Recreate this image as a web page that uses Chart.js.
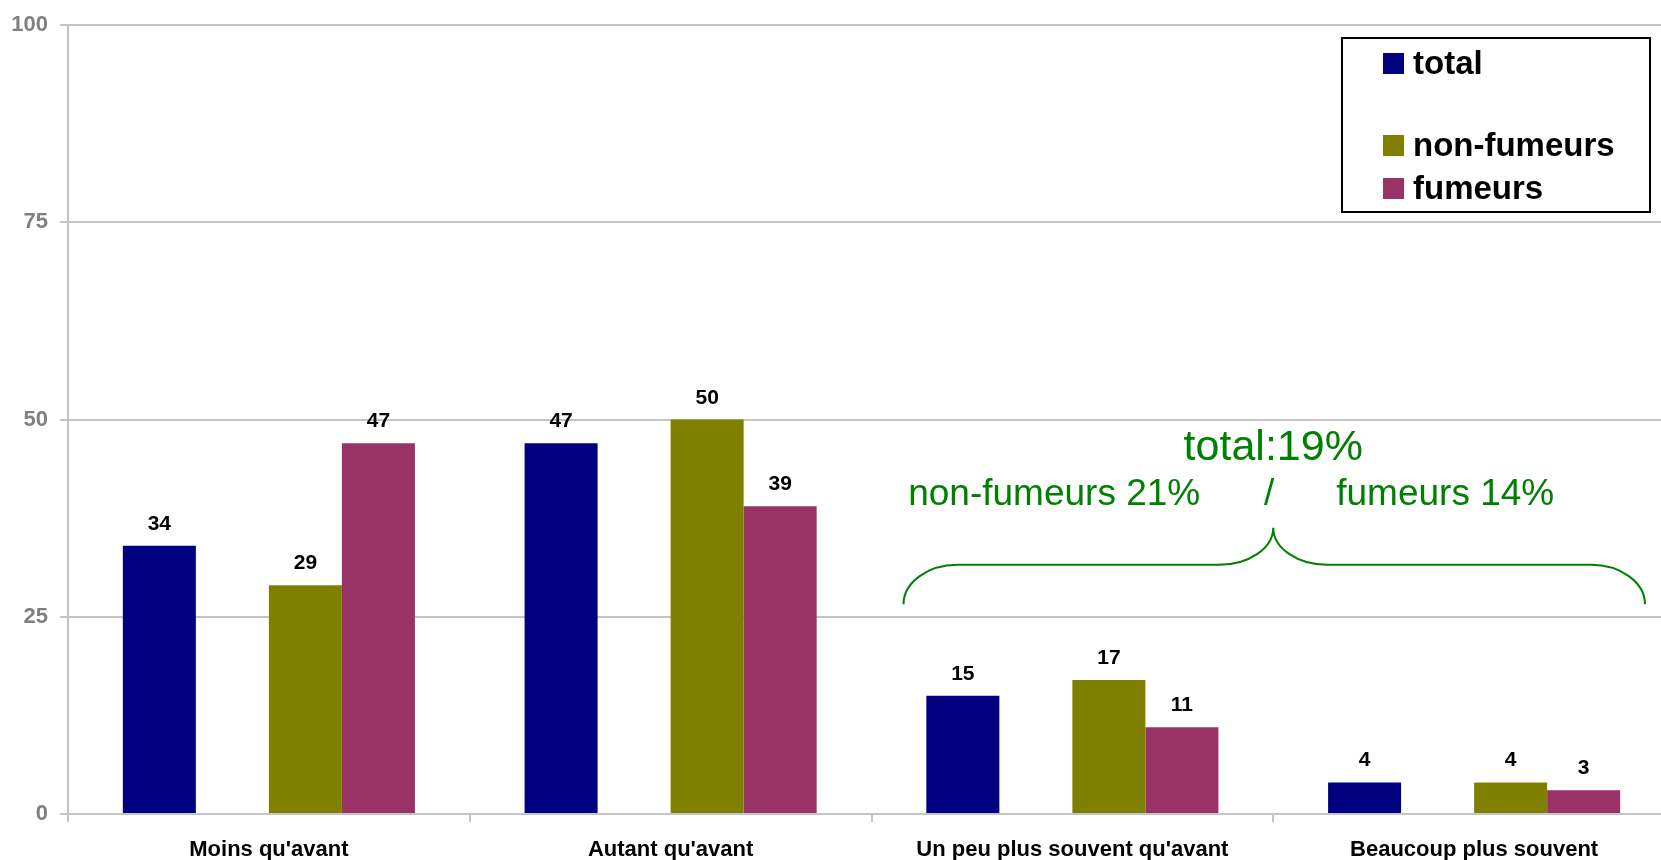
<!DOCTYPE html>
<html>
<head>
<meta charset="utf-8">
<script src="https://cdn.jsdelivr.net/npm/chart.js@4.4.0/dist/chart.umd.min.js"></script>
<style>
  html, body { margin: 0; padding: 0; background: #fff; overflow: hidden; }
  #wrap { width: 1700px; height: 860px; }
</style>
</head>
<body>
<div id="wrap"><canvas id="chart" width="1700" height="860"></canvas></div>
<script>
const categories = ["Moins qu'avant", "Autant qu'avant", "Un peu plus souvent qu'avant", "Beaucoup plus souvent"];
const total = [34, 47, 15, 4];
const nonFumeurs = [29, 50, 17, 4];
const fumeurs = [47, 39, 11, 3];
const yTicks = [0, 25, 50, 75, 100];

const navy = '#000080';
const olive = '#808000';
const maroon = '#993366';
const green = '#008000';
const gridGray = '#c4c4c4';

// values printed above the bars
const barLabels = {
    id: 'barLabels',
    afterDatasetsDraw(chart) {
        const ctx = chart.ctx;
        ctx.save();
        ctx.font = 'bold 21px Arial, "Liberation Sans", sans-serif';
        ctx.fillStyle = '#000';
        ctx.textAlign = 'center';
        ctx.textBaseline = 'alphabetic';
        chart.data.datasets.forEach((ds, i) => {
            const meta = chart.getDatasetMeta(i);
            meta.data.forEach((bar, j) => {
                const v = ds.data[j];
                if (v === null || v === undefined) return;
                ctx.fillText(String(v), bar.x, bar.y - 16);
            });
        });
        ctx.restore();
    }
};

// boxed legend in the top right corner, with the empty row
const boxLegend = {
    id: 'boxLegend',
    afterDraw(chart) {
        const ctx = chart.ctx;
        const rows = [64, 105, 146, 189];
        ctx.save();
        ctx.strokeStyle = '#000';
        ctx.lineWidth = 2;
        ctx.strokeRect(1342, 38, 308, 174);
        ctx.font = 'bold 33px Arial, "Liberation Sans", sans-serif';
        ctx.textBaseline = 'middle';
        ctx.textAlign = 'left';
        chart.data.datasets.forEach((ds, i) => {
            if (ds.label.trim() === '') return;
            const y = rows[i];
            ctx.fillStyle = ds.backgroundColor;
            ctx.fillRect(1383, y - 11, 21, 21);
            ctx.fillStyle = '#000';
            ctx.fillText(ds.label, 1413, y + 1);
        });
        ctx.restore();
    }
};

// green brace and text over the two last categories
const braceNote = {
    id: 'braceNote',
    afterDraw(chart) {
        const ctx = chart.ctx;
        const xs = chart.scales.x;
        const ys = chart.scales.y;
        const half = (xs.getPixelForValue(1) - xs.getPixelForValue(0)) / 2;
        const left = xs.getPixelForValue(2) - half;
        const right = xs.getPixelForValue(3) + half;
        const cx = (left + right) / 2;

        ctx.save();
        ctx.fillStyle = green;
        ctx.textBaseline = 'alphabetic';
        ctx.font = '43px Arial, "Liberation Sans", sans-serif';
        ctx.textAlign = 'center';
        ctx.fillText('total:19%', cx, ys.getPixelForValue(44.9));

        ctx.font = '37px Arial, "Liberation Sans", sans-serif';
        const y2 = ys.getPixelForValue(39.2);
        ctx.textAlign = 'right';
        ctx.fillText('non-fumeurs 21%', cx - 73, y2);
        ctx.textAlign = 'center';
        ctx.fillText('/', cx - 4, y2);
        ctx.textAlign = 'left';
        ctx.fillText('fumeurs 14%', cx + 63, y2);

        const x0 = left + 32, x3 = right - 30;
        const yEnd = ys.getPixelForValue(26.6);
        const yMid = ys.getPixelForValue(31.6);
        const yTop = ys.getPixelForValue(36.3);
        const r = 54, k = 0.55;
        ctx.strokeStyle = green;
        ctx.lineWidth = 2;
        ctx.beginPath();
        ctx.moveTo(x0, yEnd);
        ctx.bezierCurveTo(x0, yEnd - k * (yEnd - yMid), x0 + r - k * r, yMid, x0 + r, yMid);
        ctx.lineTo(cx - r, yMid);
        ctx.bezierCurveTo(cx - r + k * r, yMid, cx, yTop + k * (yMid - yTop), cx, yTop);
        ctx.bezierCurveTo(cx, yTop + k * (yMid - yTop), cx + r - k * r, yMid, cx + r, yMid);
        ctx.lineTo(x3 - r, yMid);
        ctx.bezierCurveTo(x3 - r + k * r, yMid, x3, yEnd - k * (yEnd - yMid), x3, yEnd);
        ctx.stroke();
        ctx.restore();
    }
};

const ctx = document.getElementById('chart').getContext('2d');
const chart = new Chart(ctx, {
    type: 'bar',
    data: {
        labels: categories,
        datasets: [
            { label: 'total', data: total, backgroundColor: navy },
            { label: ' ', data: categories.map(() => null), backgroundColor: '#fff' },
            { label: 'non-fumeurs', data: nonFumeurs, backgroundColor: olive },
            { label: 'fumeurs', data: fumeurs, backgroundColor: maroon }
        ]
    },
    options: {
        responsive: false,
        animation: false,
        devicePixelRatio: 1,
        layout: { padding: { top: 22, right: 25, left: 0, bottom: 0 } },
        datasets: {
            bar: { barPercentage: 1.0, categoryPercentage: 0.727, borderWidth: 0 }
        },
        plugins: {
            legend: { display: false },
            tooltip: { enabled: false }
        },
        scales: {
            x: {
                offset: true,
                afterFit: s => { s.height = 46; },
                grid: { offset: true, drawOnChartArea: false, drawTicks: true, tickLength: 8, color: gridGray, lineWidth: 2 },
                border: { color: gridGray, width: 2 },
                ticks: {
                    color: '#000',
                    padding: 15,
                    maxRotation: 0,
                    autoSkip: false,
                    font: { family: 'Arial, "Liberation Sans", sans-serif', size: 22, weight: 'bold' }
                }
            },
            y: {
                min: 0,
                max: 100,
                afterFit: s => { s.width = 68; },
                afterBuildTicks: s => { s.ticks = yTicks.map(v => ({ value: v })); },
                grid: { color: gridGray, lineWidth: 2, drawTicks: true, tickLength: 8 },
                border: { color: gridGray, width: 2 },
                ticks: {
                    color: '#808080',
                    padding: 12,
                    font: { family: 'Arial, "Liberation Sans", sans-serif', size: 22, weight: 'bold' }
                }
            }
        }
    },
    plugins: [barLabels, boxLegend, braceNote]
});
</script>
</body>
</html>
